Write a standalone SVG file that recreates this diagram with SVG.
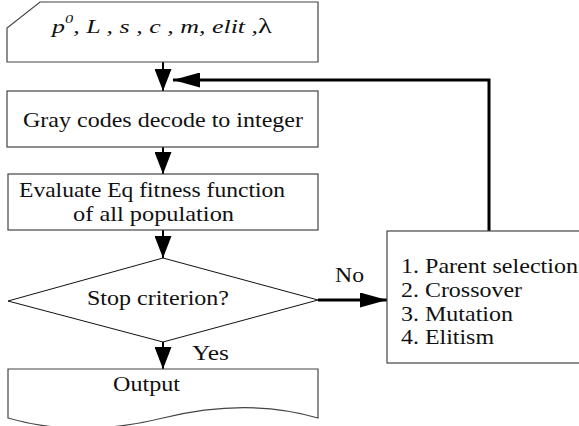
<svg xmlns="http://www.w3.org/2000/svg" width="579" height="426" viewBox="0 0 579 426">
  <style>
    .box { fill: #fff; stroke: #444; stroke-width: 1.2; }
    .dia { fill: #fff; stroke: #111; stroke-width: 1; }
    .lbl { font-size: 21px; fill: #111; }
    .math { font-size: 19px; font-style: italic; fill: #111; }
    .flow { fill: none; stroke: #000; stroke-width: 2; }
    .thick { fill: none; stroke: #000; stroke-width: 3; }
  </style>
  <defs>
    <marker id="tri" markerUnits="userSpaceOnUse" markerWidth="22" markerHeight="17" refX="22" refY="8.5" orient="auto">
      <path d="M0,0 L22,8.5 L0,17 Z" fill="#000"/>
    </marker>
    <marker id="triLong" markerUnits="userSpaceOnUse" markerWidth="27" markerHeight="15" refX="27" refY="7.5" orient="auto">
      <path d="M0,0 L27,7.5 L0,15 Z" fill="#000"/>
    </marker>
  </defs>

  <g font-family="Liberation Serif, serif">
  <!-- connectors -->
  <g id="connectors">
    <line class="flow" x1="163" y1="62" x2="163" y2="91" marker-end="url(#tri)"/>
    <line class="flow" x1="163" y1="147" x2="163" y2="174" marker-end="url(#tri)"/>
    <line class="flow" x1="163" y1="230" x2="163" y2="258" marker-end="url(#tri)"/>
    <line class="flow" x1="163" y1="342" x2="163" y2="369" marker-end="url(#tri)"/>
    <line class="thick" x1="318" y1="300" x2="387" y2="300" marker-end="url(#triLong)"/>
    <polyline class="thick" points="489,231 489,80 173,80" marker-end="url(#triLong)"/>
    <text class="lbl" x="335" y="282" textLength="29" lengthAdjust="spacingAndGlyphs">No</text>
    <text class="lbl" x="192" y="360" textLength="37" lengthAdjust="spacingAndGlyphs">Yes</text>
  </g>

  <!-- input parameters (card shape) -->
  <g id="input">
    <polygon class="box" points="40,2 318,2 318,62 7,62 7,28"/>
    <text class="math" x="52" y="33" textLength="220" lengthAdjust="spacingAndGlyphs">p<tspan dy="-10" font-size="12">0</tspan><tspan dy="10">, L , s , c , m, elit ,</tspan><tspan font-style="normal" font-size="21">λ</tspan></text>
  </g>

  <!-- decoding step -->
  <g id="decode">
    <rect class="box" x="7" y="91" width="311" height="56"/>
    <text class="lbl" x="23" y="127" textLength="280" lengthAdjust="spacingAndGlyphs">Gray codes decode to integer</text>
  </g>

  <!-- fitness evaluation -->
  <g id="evaluate">
    <rect class="box" x="8" y="174" width="310" height="56"/>
    <text class="lbl" x="19" y="197" textLength="266" lengthAdjust="spacingAndGlyphs">Evaluate Eq fitness function</text>
    <text class="lbl" x="73" y="221" textLength="161" lengthAdjust="spacingAndGlyphs">of all population</text>
  </g>

  <!-- decision -->
  <g id="stop">
    <polygon class="dia" points="163,258 318,300 163,342 8,301"/>
    <text class="lbl" x="87" y="305" textLength="142" lengthAdjust="spacingAndGlyphs">Stop criterion?</text>
  </g>

  <!-- output document -->
  <g id="output">
    <path class="box" d="M8,369 H318 V418 C270,404 220,404 163,418 C106,432 56,432 8,418 Z"/>
    <text class="lbl" x="113" y="391" textLength="67" lengthAdjust="spacingAndGlyphs">Output</text>
  </g>

  <!-- genetic operators -->
  <g id="operators">
    <rect class="box" x="387" y="231" width="200" height="132"/>
    <text class="lbl" x="401" y="273" textLength="177" lengthAdjust="spacingAndGlyphs">1. Parent selection</text>
    <text class="lbl" x="401" y="297" textLength="121" lengthAdjust="spacingAndGlyphs">2. Crossover</text>
    <text class="lbl" x="401" y="321" textLength="112" lengthAdjust="spacingAndGlyphs">3. Mutation</text>
    <text class="lbl" x="401" y="344" textLength="93" lengthAdjust="spacingAndGlyphs">4. Elitism</text>
  </g>
  </g>
</svg>
